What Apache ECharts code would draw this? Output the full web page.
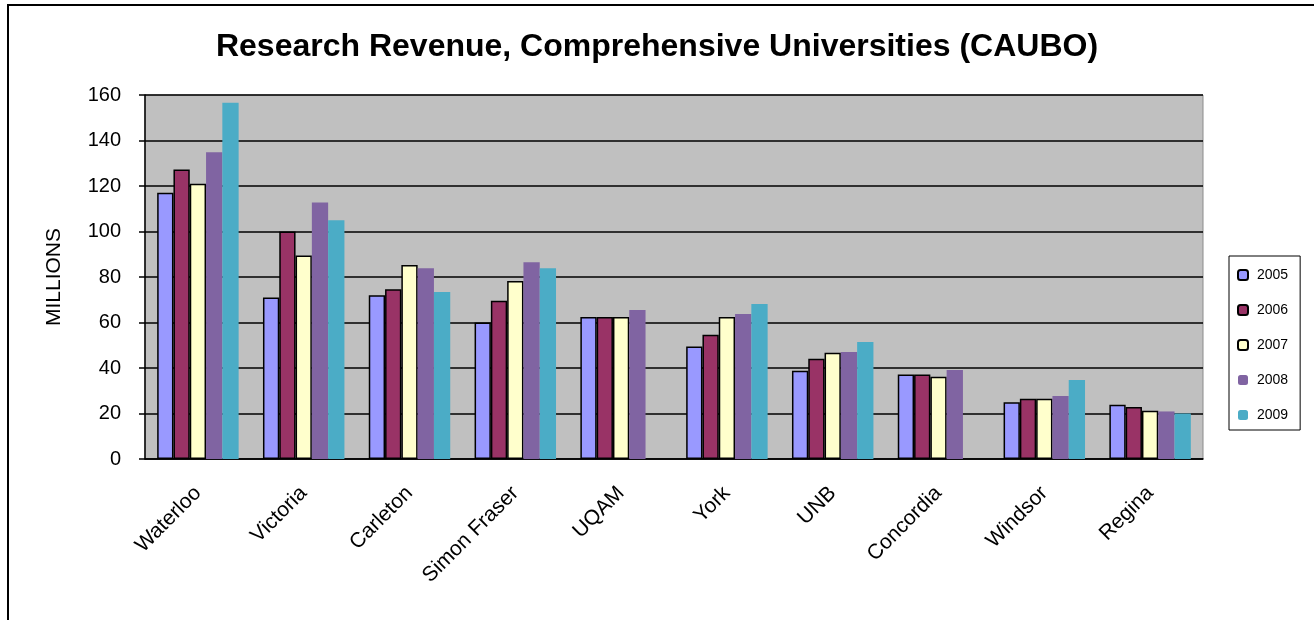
<!DOCTYPE html>
<html>
<head>
<meta charset="utf-8">
<script src="https://cdn.jsdelivr.net/npm/echarts@6/dist/echarts.min.js"></script>
<style>
html,body{margin:0;padding:0;background:#fff;}
#chart{width:1314px;height:620px;}
</style>
</head>
<body>
<div id="chart"></div>
<script>
const categories = ['Waterloo','Victoria','Carleton','Simon Fraser','UQAM','York','UNB','Concordia','Windsor','Regina'];
const years = ['2005','2006','2007','2008','2009'];
const v2005 = [117, 71, 72, 60, 62.4, 49.4, 38.8, 37.1, 24.9, 23.9];
const v2006 = [127.3, 100, 74.6, 69.6, 62.4, 54.6, 44.1, 37.1, 26.5, 22.9];
const v2007 = [121, 89.4, 85.3, 78.2, 62.4, 62.4, 46.7, 36.2, 26.5, 21.2];
const v2008 = [134.8, 112.7, 83.8, 86.5, 65.5, 63.7, 47, 39.1, 27.7, 20.9];
const v2009 = [156.6, 104.9, 73.4, 83.8, null, 68.1, 51.4, null, 34.7, 20];
const yTicks = [0, 20, 40, 60, 80, 100, 120, 140, 160];
const colors = ['#9999FF','#993366','#FFFFCC','#8064A2','#4BACC6'];
const values = [v2005, v2006, v2007, v2008, v2009];
const bordered = [true, true, true, false, false];

const chart = echarts.init(document.getElementById('chart'));
const font = 'Arial, "Liberation Sans", sans-serif';
chart.setOption({
  backgroundColor: '#ffffff',
  animation: false,
  title: {
    text: 'Research Revenue, Comprehensive Universities (CAUBO)',
    left: 'center',
    top: 26,
    textStyle: {fontFamily: font, fontSize: 32, fontWeight: 'bold', color: '#000'}
  },
  graphic: [{
    type: 'rect',
    shape: {x: 8, y: 5, width: 1340, height: 660},
    style: {fill: null, stroke: '#000', lineWidth: 2},
    silent: true
  }],
  legend: {
    orient: 'vertical',
    left: 1229,
    top: 256,
    width: 72,
    padding: [12, 12, 8, 8],
    itemGap: 21,
    itemWidth: 10,
    itemHeight: 10,
    borderColor: '#000',
    borderWidth: 1,
    textStyle: {fontFamily: font, fontSize: 14, color: '#000', padding: [0, 0, 0, 4]},
    data: years
  },
  grid: {
    left: 145, top: 95, right: 1314 - 1203, bottom: 620 - 459,
    show: true,
    backgroundColor: '#C0C0C0',
    borderColor: '#8c8c8c',
    borderWidth: 1
  },
  xAxis: {
    type: 'category',
    data: categories,
    axisLine: {lineStyle: {color: '#000', width: 1.5}},
    axisTick: {show: false},
    axisLabel: {rotate: 45, fontFamily: font, fontSize: 21, color: '#000', margin: 31, interval: 0}
  },
  yAxis: {
    type: 'value',
    min: yTicks[0],
    max: yTicks[yTicks.length - 1],
    interval: 20,
    name: 'MILLIONS',
    nameLocation: 'middle',
    nameGap: 80,
    nameRotate: 90,
    nameTextStyle: {fontFamily: font, fontSize: 21, color: '#000'},
    axisLine: {show: true, lineStyle: {color: '#000', width: 1.5}},
    axisTick: {show: true, length: 6, lineStyle: {color: '#000', width: 1.5}},
    axisLabel: {fontFamily: font, fontSize: 20, color: '#000', margin: 24},
    splitLine: {lineStyle: {color: '#000', width: 1.5}}
  },
  series: years.map((y, i) => ({
    name: y,
    type: 'bar',
    data: values[i],
    barGap: '0%',
    barCategoryGap: '23%',
    itemStyle: {
      color: colors[i],
      borderColor: bordered[i] ? '#000' : colors[i],
      borderWidth: bordered[i] ? 1.5 : 0
    }
  }))
});
</script>
</body>
</html>
